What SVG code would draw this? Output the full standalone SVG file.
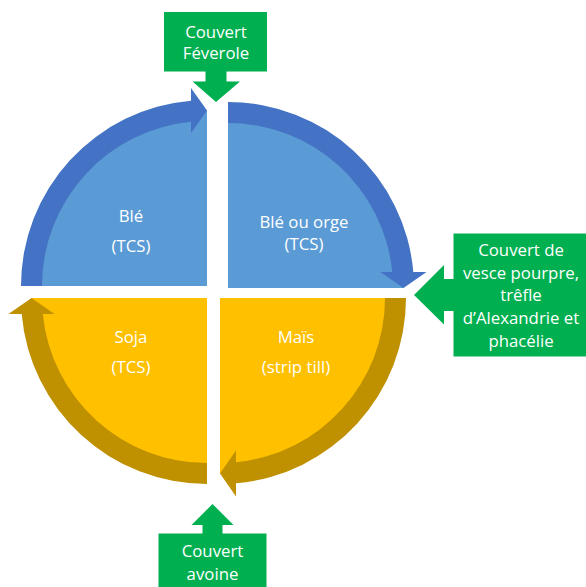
<svg xmlns="http://www.w3.org/2000/svg" width="586" height="587" viewBox="0 0 586 587">
  <style>
    .lbl { font-family: "Open Sans", "Liberation Sans", sans-serif; font-size: 16.8px; fill: #FFFFFF; text-anchor: middle; }
    .blue { fill: #5B9BD5; }
    .blueband { fill: #4472C4; }
    .gold { fill: #FFC000; }
    .goldband { fill: #BF9000; }
    .cover { fill: #00B050; }
  </style>
  <rect width="586" height="587" fill="#FFFFFF"/>

  <!-- crop quadrants -->
  <g id="ble">
    <path class="blue" d="M207 286 L31 286 A176 176 0 0 1 207 110 Z"/>
    <text class="lbl" x="131" y="222">Blé</text>
    <text class="lbl" x="131" y="252">(TCS)</text>
  </g>
  <g id="ble-orge">
    <path class="blue" d="M228 288 L228 112 A176 176 0 0 1 404 288 Z"/>
    <text class="lbl" x="304" y="228">Blé ou orge</text>
    <text class="lbl" x="304" y="250">(TCS)</text>
  </g>
  <g id="mais">
    <path class="gold" d="M220 298 L396 298 A176 176 0 0 1 220 474 Z"/>
    <text class="lbl" x="296" y="343">Maïs</text>
    <text class="lbl" x="296" y="373">(strip till)</text>
  </g>
  <g id="soja">
    <path class="gold" d="M207 298 L207 474 A176 176 0 0 1 31 298 Z"/>
    <text class="lbl" x="131" y="343">Soja</text>
    <text class="lbl" x="131" y="373">(TCS)</text>
  </g>

  <!-- circular connectors between quadrants -->
  <g id="connectors">
    <path class="blueband" d="M21 286 A186 186 0 0 1 191 100.69 L191 88 L207 110.5 L191 133 L191 121.78 A165 165 0 0 0 42 286 Z"/>
    <path class="blueband" d="M228 102 A186 186 0 0 1 413.31 272 L426.5 272 L403.5 288 L380.5 272 L392.22 272 A165 165 0 0 0 228 123 Z"/>
    <path class="goldband" d="M406 298 A186 186 0 0 1 236 483.31 L236 496.5 L220 473.5 L236 450.5 L236 462.22 A165 165 0 0 0 385 298 Z"/>
    <path class="goldband" d="M207 484 A186 186 0 0 1 21.69 314 L8.5 314 L31.5 298 L54.5 314 L42.78 314 A165 165 0 0 0 207 463 Z"/>
  </g>

  <!-- cover crop callouts -->
  <g id="couvert-feverole">
    <path class="cover" d="M164 12 H267 V71.5 H226.5 V81.5 H240 L216 102 L192.5 81.5 H205.5 V71.5 H164 Z"/>
    <text class="lbl" x="216" y="37.5">Couvert</text>
    <text class="lbl" x="216" y="58.5">Féverole</text>
  </g>
  <g id="couvert-vesce">
    <path class="cover" d="M453.5 233.5 H587 V356.5 H453.5 V311 H444 V324.5 L414 295 L444 265 V279 H453.5 Z"/>
    <text class="lbl" x="521" y="256">Couvert de</text>
    <text class="lbl" x="521" y="279">vesce pourpre,</text>
    <text class="lbl" x="521" y="301">trêfle</text>
    <text class="lbl" x="521" y="324">d’Alexandrie et</text>
    <text class="lbl" x="521" y="347">phacélie</text>
  </g>
  <g id="couvert-avoine">
    <path class="cover" d="M158.5 533.5 H266.5 V588 H158.5 Z M202.5 533.5 V525 H191.5 L212.5 504 L233.5 525 H222.5 V533.5 Z"/>
    <text class="lbl" x="212.5" y="557">Couvert</text>
    <text class="lbl" x="212.5" y="579.5">avoine</text>
  </g>
</svg>
